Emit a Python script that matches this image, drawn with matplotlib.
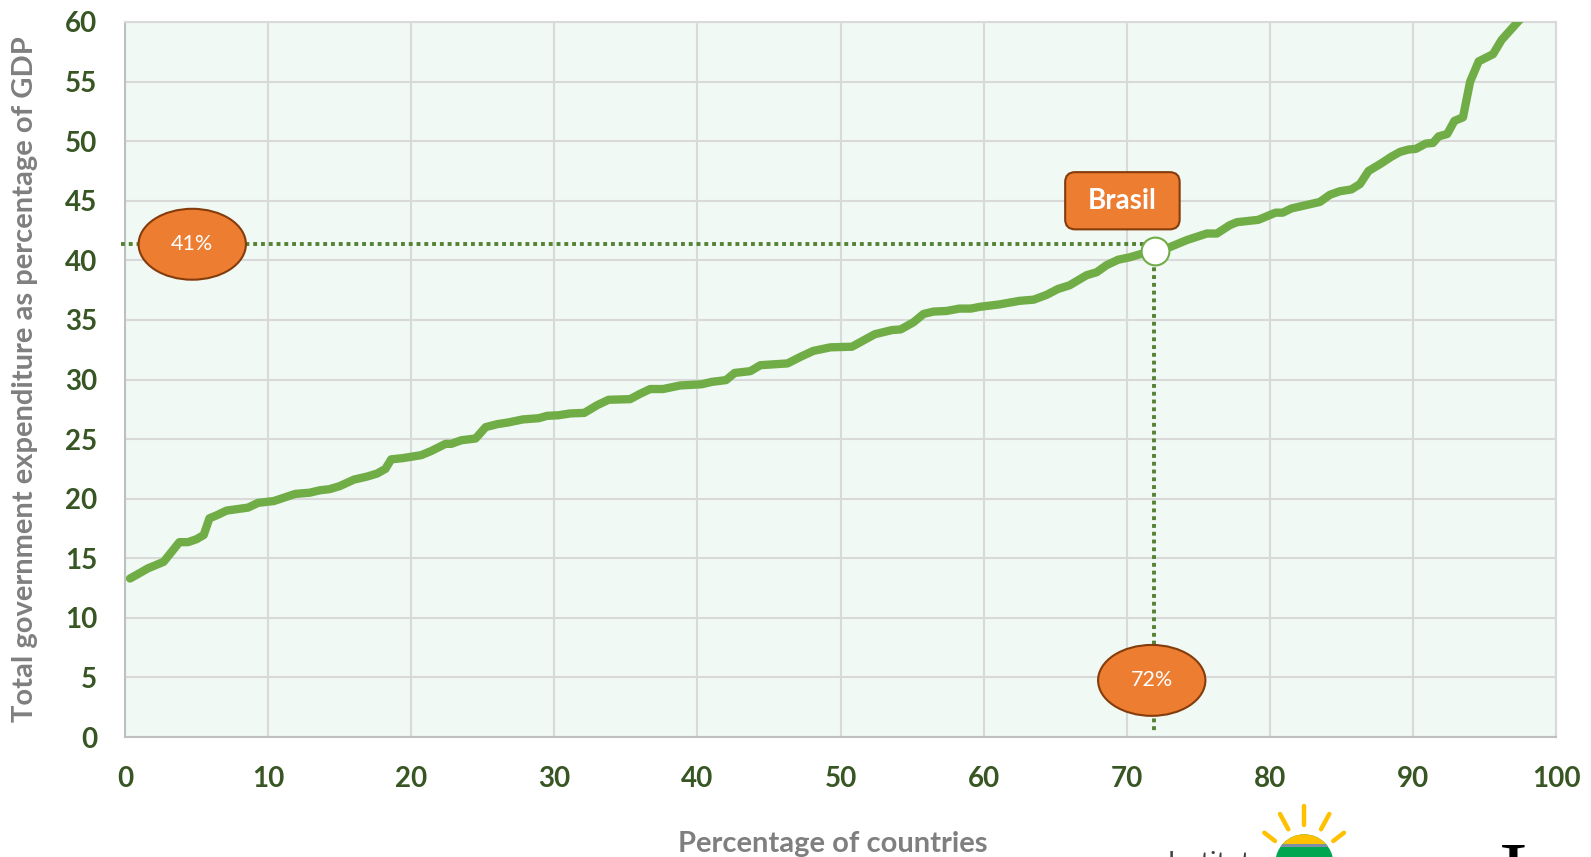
import matplotlib.pyplot as plt
from matplotlib.lines import Line2D
from matplotlib.patches import Ellipse, FancyBboxPatch, Wedge

plt.rcParams["font.family"] = ["Lato", "DejaVu Sans"]

# share of countries (%) vs total government expenditure (% of GDP)
pct_countries = [
    0.35, 0.8, 1.6, 2.7, 3.1, 3.8, 4.4, 5.0, 5.5, 5.9, 6.4, 7.1, 8.6, 9.3, 10.4,
    11.9, 12.9, 13.6, 14.3, 15.0, 16.0, 16.9, 17.6, 18.2, 18.6, 19.4, 20.7, 21.4,
    22.4, 22.8, 23.5, 24.5, 25.2, 26.0, 26.8, 27.8, 28.9, 29.5, 30.3, 31.1, 32.1,
    33.0, 33.8, 35.3, 36.0, 36.7, 37.6, 38.8, 40.3, 41.0, 42.0, 42.6, 43.7, 44.4,
    46.3, 47.2, 48.1, 49.3, 50.8, 52.4, 53.6, 54.2, 55.1, 55.8, 56.5, 57.4, 58.3,
    59.1, 59.75, 61.1, 62.5, 63.5, 64.4, 65.2, 66.0, 67.2, 67.9, 68.6, 69.4, 70.2,
    70.9, 72.0, 73.0, 74.2, 75.6, 76.3, 77.2, 77.7, 79.2, 80.4, 80.9, 81.5, 83.5,
    84.2, 84.9, 85.7, 86.3, 86.9, 87.7, 88.5, 89.1, 89.7, 90.2, 90.9, 91.4, 91.8,
    92.4, 92.9, 93.5, 94.0, 94.6, 95.6, 96.2, 97.4, 97.7,
]
expenditure = [
    13.3, 13.6, 14.15, 14.7, 15.3, 16.35, 16.35, 16.6, 16.95, 18.35, 18.6, 19.0,
    19.25, 19.65, 19.8, 20.4, 20.5, 20.7, 20.8, 21.05, 21.6, 21.85, 22.1, 22.5,
    23.3, 23.4, 23.65, 24.0, 24.6, 24.6, 24.9, 25.05, 26.0, 26.25, 26.4, 26.65,
    26.75, 26.95, 27.0, 27.15, 27.2, 27.85, 28.3, 28.35, 28.8, 29.2, 29.2, 29.5,
    29.6, 29.8, 29.95, 30.55, 30.7, 31.2, 31.35, 31.9, 32.4, 32.7, 32.75, 33.8,
    34.15, 34.2, 34.8, 35.5, 35.7, 35.75, 35.95, 35.95, 36.1, 36.3, 36.6, 36.7,
    37.1, 37.6, 37.9, 38.75, 39.0, 39.6, 40.05, 40.25, 40.5, 40.75, 41.1, 41.7,
    42.25, 42.25, 42.95, 43.2, 43.4, 44.0, 44.0, 44.35, 44.9, 45.5, 45.8, 45.95,
    46.4, 47.5, 48.07, 48.7, 49.1, 49.3, 49.35, 49.8, 49.85, 50.4, 50.6, 51.7,
    52.0, 55.0, 56.7, 57.3, 58.5, 60.1, 60.5,
]

brasil_x, brasil_y = 72.0, 40.75
guide_x, guide_y = 71.9, 41.35
x_ticks = [0, 10, 20, 30, 40, 50, 60, 70, 80, 90, 100]
y_ticks = [0, 5, 10, 15, 20, 25, 30, 35, 40, 45, 50, 55, 60]

W, H = 1591, 857
fig = plt.figure(figsize=(W / 100, H / 100), dpi=100)
ax = fig.add_axes([125 / W, 1 - 737 / H, 1431 / W, 715 / H])
ax.set_facecolor("#F1F9F4")

ax.set_xlim(0, 100)
ax.set_ylim(0, 60)
ax.set_xticks(x_ticks)
ax.set_yticks(y_ticks)
ax.grid(True, color="#D9D9D9", linewidth=1.5)
ax.set_axisbelow(True)
for side in ["top", "right"]:
    ax.spines[side].set_color("#D9D9D9")
    ax.spines[side].set_linewidth(1.5)
for side in ["left", "bottom"]:
    ax.spines[side].set_color("#BFBFBF")
    ax.spines[side].set_linewidth(1.5)
ax.tick_params(axis="y", length=0, pad=20, labelsize=20, labelcolor="#375623")
ax.tick_params(axis="x", length=0, pad=21, labelsize=20, labelcolor="#375623")
for lab in ax.get_xticklabels() + ax.get_yticklabels():
    lab.set_fontweight("bold")

# curve
ax.plot(pct_countries, expenditure, color="#70AD47", linewidth=6,
        solid_capstyle="round", solid_joinstyle="round", zorder=3)

# guide lines
ax.plot([-0.3, guide_x], [guide_y, guide_y], color="#548235", linewidth=2.8,
        linestyle=(0, (1, 1)), clip_on=False, zorder=4)
ax.plot([guide_x, guide_x], [guide_y, 0.4], color="#548235", linewidth=2.8,
        linestyle=(0, (1, 1)), clip_on=False, zorder=4)

ax.plot([brasil_x], [brasil_y], marker="o", markersize=20, markerfacecolor="white",
        markeredgecolor="#70AD47", markeredgewidth=1.5, zorder=5)

# bubbles
for cx, cy, txt in [(4.7, guide_y, "41%"), (71.75, 4.75, "72%")]:
    ax.add_patch(Ellipse((cx, cy), 7.5, 5.95, facecolor="#ED7D31",
                         edgecolor="#843C0C", linewidth=1.5, zorder=6))
    ax.text(cx, cy, txt, color="white", fontsize=15.5, ha="center", va="center",
            zorder=7)

ax.add_patch(FancyBboxPatch((65.7, 42.6), 8.0, 4.8,
                            boxstyle="round,pad=0,rounding_size=0.7",
                            mutation_aspect=1.2, facecolor="#ED7D31",
                            edgecolor="#843C0C", linewidth=1.5, zorder=6))
ax.text(69.7, 45.0, "Brasil", color="white", fontsize=20, fontweight="bold",
        ha="center", va="center", zorder=7)

# axis titles
fig.text(25 / W, 1 - 379 / H, "Total government expenditure as percentage of GDP",
         rotation=90, ha="center", va="center", fontsize=21, fontweight="bold",
         color="#7F7F7F")
fig.text(833 / W, 1 - 844 / H, "Percentage of countries", ha="center",
         va="center", fontsize=21, fontweight="bold", color="#7F7F7F")

# logo, cropped at the bottom of the image (drawn in pixel units)
lax = fig.add_axes([1240 / W, 0, 120 / W, 60 / H])
lax.set_xlim(1240, 1360)
lax.set_ylim(857, 797)
lax.axis("off")
cx, cy, r = 1304.3, 863.3, 29.0
green = Wedge((cx, cy), r, 0, 360, facecolor="#00A650", edgecolor="none")
lax.add_patch(green)
top = Wedge((cx, cy), r, 0, 360, facecolor="#FFC000", edgecolor="none")
lax.add_patch(top)
top.set_clip_path(plt.Rectangle((1200, 790), 200, 54.5, transform=lax.transData))
stripe = Wedge((cx, cy), r, 0, 360, facecolor="#7F8FA6", edgecolor="none")
lax.add_patch(stripe)
stripe.set_clip_path(plt.Rectangle((1200, 844.3), 200, 2.4,
                                   transform=lax.transData))
rays = [((1304, 806), (1304, 825)), ((1280, 814), (1288.3, 829.3)),
        ((1329.3, 814), (1321, 829.3)), ((1264.3, 832.7), (1275, 841)),
        ((1344, 832.7), (1333.3, 841))]
for (x0, y0), (x1, y1) in rays:
    lax.add_line(Line2D([x0, x1], [y0, y1], color="#FFC000", linewidth=3.2,
                        solid_capstyle="round"))

fig.text(1168 / W, 1 - 851 / H, "Instituto", fontsize=19, color="#404040",
         ha="left", va="top")
fig.text(1499 / W, 1 - 841 / H, "I", fontsize=62, color="black",
         family="Liberation Serif", ha="left", va="top")

fig.savefig("out.png", dpi=100)
